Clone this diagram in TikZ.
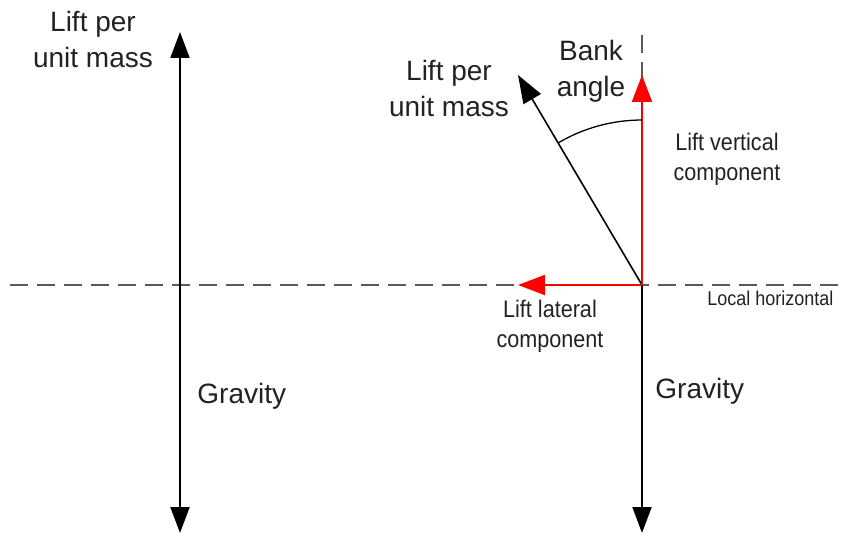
\documentclass[tikz,border=0pt]{standalone}
\usepackage{fontspec}
\setmainfont{Liberation Sans}
\newfontfamily\narrowfont{Liberation Sans}[FakeStretch=0.9]
\usetikzlibrary{arrows.meta}
\definecolor{txt}{HTML}{222222}
\definecolor{dashgray}{HTML}{5A5A5A}
\begin{document}
\begin{tikzpicture}[x=0.5pt,y=-0.5pt,
  bigtext/.style={font=\fontsize{14pt}{18pt}\selectfont, text=txt, inner sep=0pt, align=center, anchor=base},
  smalltext/.style={font=\narrowfont\fontsize{12pt}{14.75pt}\selectfont, text=txt, inner sep=0pt, align=center, anchor=base},
  tinytext/.style={font=\narrowfont\fontsize{10pt}{12pt}\selectfont, text=txt, inner sep=0pt, anchor=base west},
  force/.style={line width=1pt, draw=black, -{Triangle[length=13pt,width=9.5pt]}},
  forceboth/.style={line width=1pt, draw=black, {Triangle[length=13pt,width=9.5pt]}-{Triangle[length=13pt,width=9.5pt]}},
  liftvec/.style={line width=0.8pt, draw=black, -{Triangle[length=14pt,width=10pt]}},
  redforce/.style={line width=1pt, draw=red, -{Triangle[length=13.5pt,width=10pt]}},
  refline/.style={line width=1pt, draw=dashgray, dash pattern=on 9pt off 4.5pt},
  anglearc/.style={line width=0.65pt, draw=black}]
\useasboundingbox (0,0) rectangle (845,535);
% coordinates
\coordinate (O) at (642,285);
\coordinate (hL) at (10,285);
\coordinate (hR) at (845,285);
\coordinate (vTop) at (642,35);
\coordinate (gR) at (642,533);
\coordinate (lTop) at (180,32);
\coordinate (lBot) at (180,533);
\coordinate (liftTip) at (518,75);
\coordinate (vertTip) at (642,75);
\coordinate (latTip) at (518,285);
\coordinate (arcA) at (558,143);
% reference lines
\draw[refline] (hL) -- (hR);
\draw[refline] (vTop) -- (O);
% left forces
\draw[forceboth] (lTop) -- (lBot);
% right forces
\draw[force] (O) -- (gR);
\draw[liftvec] (O) -- (liftTip);
\draw[redforce] (O) -- (vertTip);
\draw[redforce] (O) -- (latTip);
\draw[anglearc] (arcA) arc[start angle=120.6, end angle=90, radius=82.5pt];
% labels (anchor = baseline of last line)
\node[bigtext] (lblL) at (93,68) {Lift per\\unit mass};
\node[bigtext] (lblM) at (449,117) {Lift per\\unit mass};
\node[bigtext] (lblB) at (591,97) {Bank\\angle};
\node[smalltext] (lblV) at (727,180) {Lift vertical\\component};
\node[smalltext] (lblH) at (550,347) {Lift lateral\\component};
\node[tinytext] (lblLH) at (707,305) {Local horizontal};
\node[bigtext, anchor=base west] (gL) at (197,403) {Gravity};
\node[bigtext, anchor=base west] (gRt) at (655,398) {Gravity};
\end{tikzpicture}
\end{document}
